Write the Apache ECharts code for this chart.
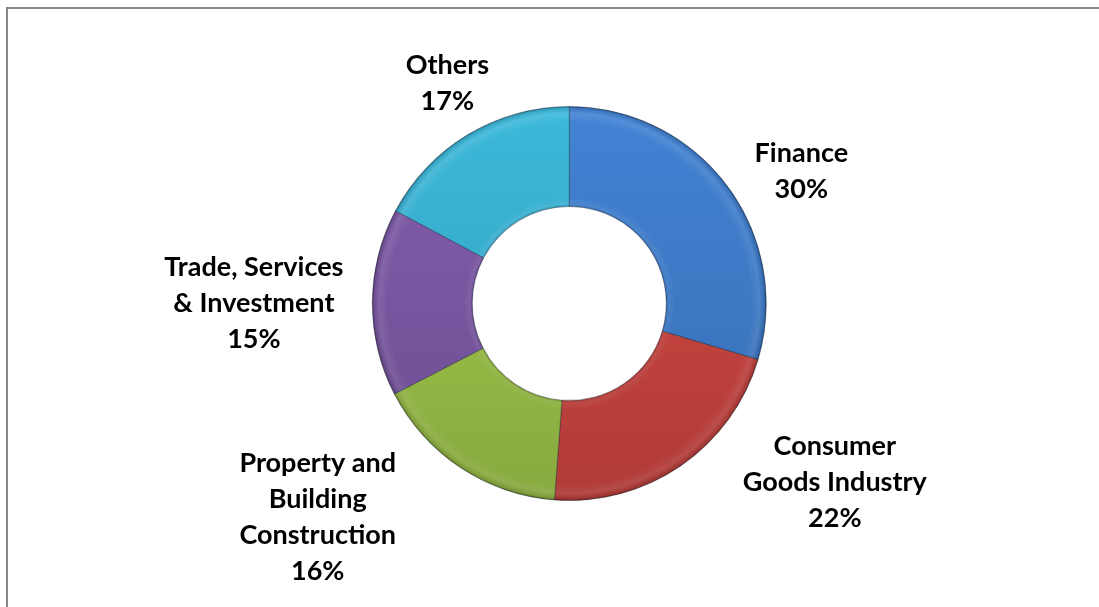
<!DOCTYPE html>
<html>
<head>
<meta charset="utf-8">
<script src="https://cdn.jsdelivr.net/npm/echarts@6/dist/echarts.min.js"></script>
<style>
  html, body { margin: 0; padding: 0; background: #ffffff; }
  #wrap { position: relative; width: 1099px; height: 607px; overflow: hidden; }
  #frame { position: absolute; left: 6px; top: 7px; width: 2000px; height: 2000px;
           border-left: 2px solid #878787; border-top: 2px solid #878787; }
  #chart { position: absolute; left: 0; top: 0; width: 1099px; height: 607px; }
</style>
</head>
<body>
<div id="wrap">
  <div id="frame"></div>
  <div id="chart"></div>
</div>
<script>
// ---- data ----
const categories = ['Finance', 'Consumer Goods Industry', 'Property and Building Construction', 'Trade, Services & Investment', 'Others'];
const labelTexts = ['Finance', 'Consumer\nGoods Industry', 'Property and\nBuilding\nConstruction', 'Trade, Services\n& Investment', 'Others'];
const values = [29.6, 21.6, 16.2, 15.4, 17.2];

// ---- styling ----
const baseColors = ['#4283d5', '#d44843', '#a4cc4c', '#835dad', '#3cb9db'];
const W = 1099, H = 607;
const CX = W * 0.518, CY = H * 0.5;
const R_OUT = 197, R_IN = 97;
// label anchor offsets relative to pie centre (in units of outer radius)
const labelAnchors = [[1.178, -0.670], [1.348, 0.909], [-1.277, 1.086], [-1.601, 0.0], [-0.619, -1.117]];

function hexToRgb(h) { h = h.replace('#',''); return [0,2,4].map(i => parseInt(h.substr(i,2),16)); }
function mix(c, target, t) {
  const a = hexToRgb(c);
  const r = a.map((v, i) => Math.round(v + (target[i] - v) * t));
  return 'rgb(' + r.join(',') + ')';
}
const lighten = (c, t) => mix(c, [255,255,255], t);
const darken = (c, t) => mix(c, [0,0,0], t);

function bevel(c) {
  const k = R_IN / R_OUT;
  return {
    type: 'radial', x: CX, y: CY, r: R_OUT, global: true,
    colorStops: [
      { offset: 0, color: darken(c, 0.15) },
      { offset: k, color: darken(c, 0.15) },
      { offset: k + 0.012, color: lighten(c, 0.08) },
      { offset: k + 0.045, color: c },
      { offset: 0.92, color: c },
      { offset: 0.965, color: lighten(c, 0.1) },
      { offset: 0.99, color: darken(c, 0.1) },
      { offset: 1, color: darken(c, 0.35) }
    ]
  };
}

const chart = echarts.init(document.getElementById('chart'), null, { renderer: 'canvas' });

const seriesData = categories.map((name, i) => ({
  name: name,
  value: values[i],
  itemStyle: { color: bevel(baseColors[i]) }
}));

const overlayData = categories.map((name, i) => ({ name: name, value: values[i] }));

chart.setOption({
  animation: false,
  series: [
    {
      type: 'pie',
      center: [CX, CY],
      radius: [R_IN, R_OUT],
      startAngle: 90,
      clockwise: true,
      avoidLabelOverlap: false,
      itemStyle: { borderColor: 'rgba(20,30,50,0.5)', borderWidth: 0.8 },
      label: {
        show: true,
        position: 'outside',
        fontFamily: 'Lato, "Open Sans", sans-serif',
        fontWeight: 'bold',
        fontSize: 27,
        lineHeight: 36,
        color: '#000000',
        align: 'center',
        formatter: function (p) {
          return labelTexts[p.dataIndex] + '\n' + Math.round(p.percent) + '%';
        }
      },
      labelLine: { show: false },
      labelLayout: function (p) {
        const a = labelAnchors[p.dataIndex];
        return { x: CX + a[0] * R_OUT, y: CY + a[1] * R_OUT, align: 'center', verticalAlign: 'middle' };
      },
      emphasis: { disabled: true },
      data: seriesData
    },
    {
      type: 'pie',
      silent: true,
      center: [CX, CY],
      radius: [R_IN, R_OUT],
      startAngle: 90,
      clockwise: true,
      label: { show: false },
      labelLine: { show: false },
      emphasis: { disabled: true },
      itemStyle: {
        color: {
          type: 'linear', x: 0, y: CY - R_OUT, x2: 0, y2: CY + R_OUT, global: true,
          colorStops: [
            { offset: 0, color: 'rgba(0,0,0,0)' },
            { offset: 1, color: 'rgba(0,0,0,0.17)' }
          ]
        }
      },
      data: overlayData
    }
  ]
});
</script>
</body>
</html>
